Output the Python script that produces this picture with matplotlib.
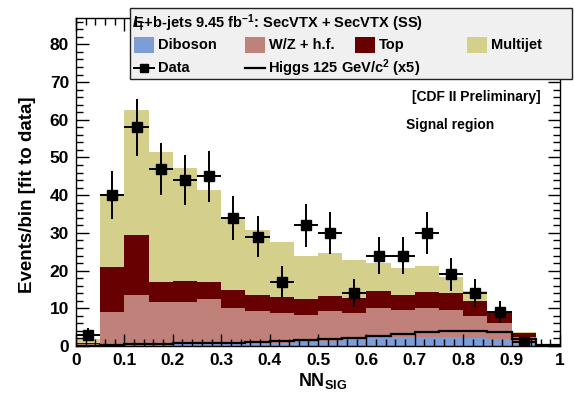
import numpy as np
import matplotlib
matplotlib.use('Agg')
import matplotlib.pyplot as plt
from matplotlib.patches import Rectangle
from matplotlib.lines import Line2D
from matplotlib.ticker import MultipleLocator, FuncFormatter

plt.rcParams['font.family'] = ['Liberation Sans', 'DejaVu Sans']
plt.rcParams['font.weight'] = 'bold'
plt.rcParams['axes.labelweight'] = 'bold'
plt.rcParams['mathtext.fontset'] = 'custom'
plt.rcParams['mathtext.rm'] = 'Liberation Sans:bold'
plt.rcParams['mathtext.bf'] = 'Liberation Sans:bold'
plt.rcParams['mathtext.it'] = 'Liberation Sans:bold'
plt.rcParams['mathtext.default'] = 'rm'

# NN_SIG binning, 20 bins of 0.05
bin_edges = np.linspace(0.0, 1.0, 21)

# background components, events per bin
diboson = [0.0, 0.1, 0.2, 0.3, 0.4, 0.5, 0.6, 0.7, 0.9, 1.1,
           1.3, 1.6, 2.2, 2.4, 2.4, 2.4, 2.2, 1.8, 1.0, 0.0]
wz_hf = [0.4, 9.0, 13.3, 11.4, 11.2, 11.9, 9.6, 8.6, 7.9, 7.1,
         8.0, 7.1, 8.0, 7.1, 7.6, 7.1, 5.8, 4.4, 1.3, 0.0]
top = [0.5, 11.9, 15.9, 5.3, 5.7, 4.6, 4.6, 4.2, 4.1, 4.2,
       3.9, 4.1, 4.4, 4.0, 4.4, 4.6, 4.0, 2.7, 1.1, 0.0]
multijet = [0.9, 19.0, 33.1, 34.5, 29.9, 24.3, 18.8, 17.2, 14.6, 11.5,
            11.6, 10.0, 7.5, 7.3, 6.8, 4.3, 2.6, 0.4, 0.2, 0.0]

# Higgs signal (x5)
higgs_x5 = [0.1, 0.3, 0.5, 0.6, 0.7, 0.8, 0.9, 1.1, 1.3, 1.5,
            1.8, 2.0, 2.6, 3.3, 3.6, 3.9, 4.0, 3.8, 1.8, 0.2]

# observed events
data = [3, 40, 58, 47, 44, 45, 34, 29, 17, 32,
        30, 14, 24, 24, 30, 19, 14, 9, 1, 0]

labels = ['Diboson', 'W/Z + h.f.', 'Top', 'Multijet']
colors = ['#7c9dd7', '#c0817a', '#670000', '#d4cf8b']

fig = plt.figure(figsize=(5.74, 3.98), dpi=100)
ax = fig.add_axes([76 / 574, 1 - 346 / 398, 484 / 574, 328 / 398])

# stacked backgrounds
base = np.zeros(len(bin_edges) - 1)
for vals, col in zip([diboson, wz_hf, top, multijet], colors):
    upper = base + np.array(vals)
    ax.stairs(upper, bin_edges, baseline=base, fill=True, color=col, lw=0)
    base = upper

ax.stairs(higgs_x5, bin_edges, color='k', lw=1.6)

centers = 0.5 * (bin_edges[:-1] + bin_edges[1:])
d = np.array(data, dtype=float)
m = d > 0
ax.errorbar(centers[m], d[m], xerr=0.025, yerr=np.sqrt(d[m]), fmt='s',
            color='k', ms=6.5, lw=1.4, capsize=0)

ax.set_xlim(0, 1)
ax.set_ylim(0, 87)
ax.xaxis.set_major_locator(MultipleLocator(0.1))
ax.xaxis.set_minor_locator(MultipleLocator(0.02))
ax.yaxis.set_major_locator(MultipleLocator(10))
ax.yaxis.set_minor_locator(MultipleLocator(2))
ax.xaxis.set_major_formatter(FuncFormatter(lambda v, p: '%g' % round(v, 2)))
ax.tick_params(which='both', direction='in', top=True, right=True,
               labelsize=12.5, width=1)
ax.tick_params(which='major', length=9, pad=5)
ax.tick_params(which='minor', length=5)
for s in ax.spines.values():
    s.set_linewidth(1)

ax.set_xlabel(r'NN$_{\mathrm{SIG}}$', fontsize=13)
ax.xaxis.set_label_coords(0.51, -0.075)
ax.set_ylabel('Events/bin [fit to data]', fontsize=13.5)
ax.yaxis.set_label_coords(-0.082, 0.46)

ax.text(541 / 574, 1 - 97 / 398, '[CDF II Preliminary]', transform=fig.transFigure,
        ha='right', va='center', fontsize=10)
ax.text(406 / 574, 1 - 125 / 398, 'Signal region', transform=fig.transFigure,
        ha='left', va='center', fontsize=10)

# legend box
W, H = 574.0, 398.0
fig.add_artist(Rectangle((130 / W, 1 - 79 / H), 442 / W, 71 / H,
                         transform=fig.transFigure, facecolor='#f0f0f0',
                         edgecolor='#222222', lw=1, zorder=5))
fig.text(133 / W, 1 - 23 / H,
         r'$\mathrm{E}\!\!\!\!\!/_{\mathrm{T}}$+b-jets 9.45 fb$^{\mathrm{-1}}$: SecVTX + SecVTX (SS)',
         ha='left', va='center', fontsize=10.5, zorder=6)
patch_x = [134, 245, 355, 467]
for px, lab, col in zip(patch_x, labels, colors):
    fig.add_artist(Rectangle((px / W, 1 - 53 / H), 20 / W, 16 / H,
                             transform=fig.transFigure, facecolor=col,
                             lw=0, zorder=6))
    fig.text((px + 24) / W, 1 - 45 / H, lab, ha='left', va='center',
             fontsize=10.5, zorder=6)
ry = 1 - 68 / H
fig.add_artist(Line2D([134 / W, 154 / W], [ry, ry], transform=fig.transFigure,
                      color='k', lw=1.4, zorder=6))
fig.add_artist(Line2D([144 / W], [ry], transform=fig.transFigure,
                      color='k', marker='s', ms=6, zorder=7))
fig.text(158 / W, ry, 'Data', ha='left', va='center', fontsize=10.5, zorder=6)
fig.add_artist(Line2D([245 / W, 265 / W], [ry, ry], transform=fig.transFigure,
                      color='k', lw=1.6, zorder=6))
fig.text(268 / W, ry, r'Higgs 125 GeV/c$^{\mathrm{2}}$ (x5)', ha='left',
         va='center', fontsize=10.5, zorder=6)

fig.savefig('out.png', dpi=100)
